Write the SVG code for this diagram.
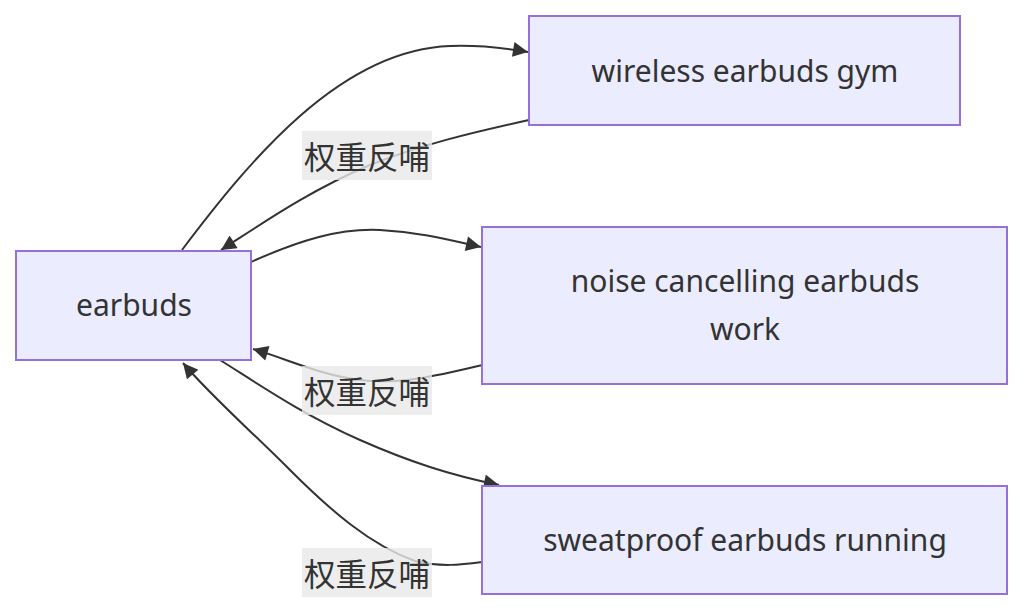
<svg xmlns="http://www.w3.org/2000/svg" width="1024" height="613" viewBox="0 0 1024 613">
<defs>
<style>
.node rect{fill:#ECECFF;stroke:#9370DB;stroke-width:2}
.node text{font-family:"Noto Sans","Open Sans",sans-serif;font-size:30px;fill:#333;text-anchor:middle;dominant-baseline:central}
.edge{fill:none;stroke:#333;stroke-width:2}
.lbl rect{fill:rgba(232,232,232,0.8)}
.lbl text{font-family:"Noto Sans CJK SC","Noto Sans",sans-serif;font-size:31.5px;fill:#333;text-anchor:middle;dominant-baseline:central}
</style>
<marker id="arr" viewBox="0 0 10 10" refX="10" refY="5" markerWidth="17" markerHeight="15" markerUnits="userSpaceOnUse" orient="auto">
<path d="M0,0 L10,5 L0,10 z" fill="#333"/>
</marker>
</defs>
<rect width="1024" height="613" fill="#fff"/>
<g id="connectors">
<path class="edge" marker-end="url(#arr)" d="M182,250 C250,160 340,50 450,46 C480,45 505,48 528,52"/>
<path class="edge" marker-end="url(#arr)" d="M529,120 C470,133 420,145 370,165 C310,190 260,225 221,250"/>
<path class="edge" marker-end="url(#arr)" d="M251,262 C300,240 340,228 380,230 C420,232 450,240 481,247"/>
<path class="edge" marker-end="url(#arr)" d="M482,365 C440,375 400,385 360,380 C320,375 290,360 253,349"/>
<path class="edge" marker-end="url(#arr)" d="M220,360 C260,385 300,413 360,440 C410,462 450,475 499,485"/>
<path class="edge" marker-end="url(#arr)" d="M482,562 C460,565 440,567 415,561 C370,545 330,510 290,470 C250,430 210,395 183,363"/>
</g>
<g id="label1" class="lbl"><rect x="302" y="131" width="130" height="49"/><text x="367" y="155">权重反哺</text></g>
<g id="label2" class="lbl"><rect x="302" y="366" width="130" height="49"/><text x="367" y="390">权重反哺</text></g>
<g id="label3" class="lbl"><rect x="302" y="548" width="130" height="49"/><text x="367" y="572">权重反哺</text></g>
<g id="earbuds" class="node"><rect x="16" y="251" width="235" height="109"/><text x="134" y="304">earbuds</text></g>
<g id="wireless" class="node"><rect x="529" y="16" width="431" height="109"/><text x="745" y="70">wireless earbuds gym</text></g>
<g id="noise" class="node"><rect x="482" y="227" width="525" height="157"/><text x="745" y="280">noise cancelling earbuds</text><text x="745" y="328">work</text></g>
<g id="sweatproof" class="node"><rect x="482" y="486" width="525" height="108"/><text x="745" y="539">sweatproof earbuds running</text></g>
</svg>
